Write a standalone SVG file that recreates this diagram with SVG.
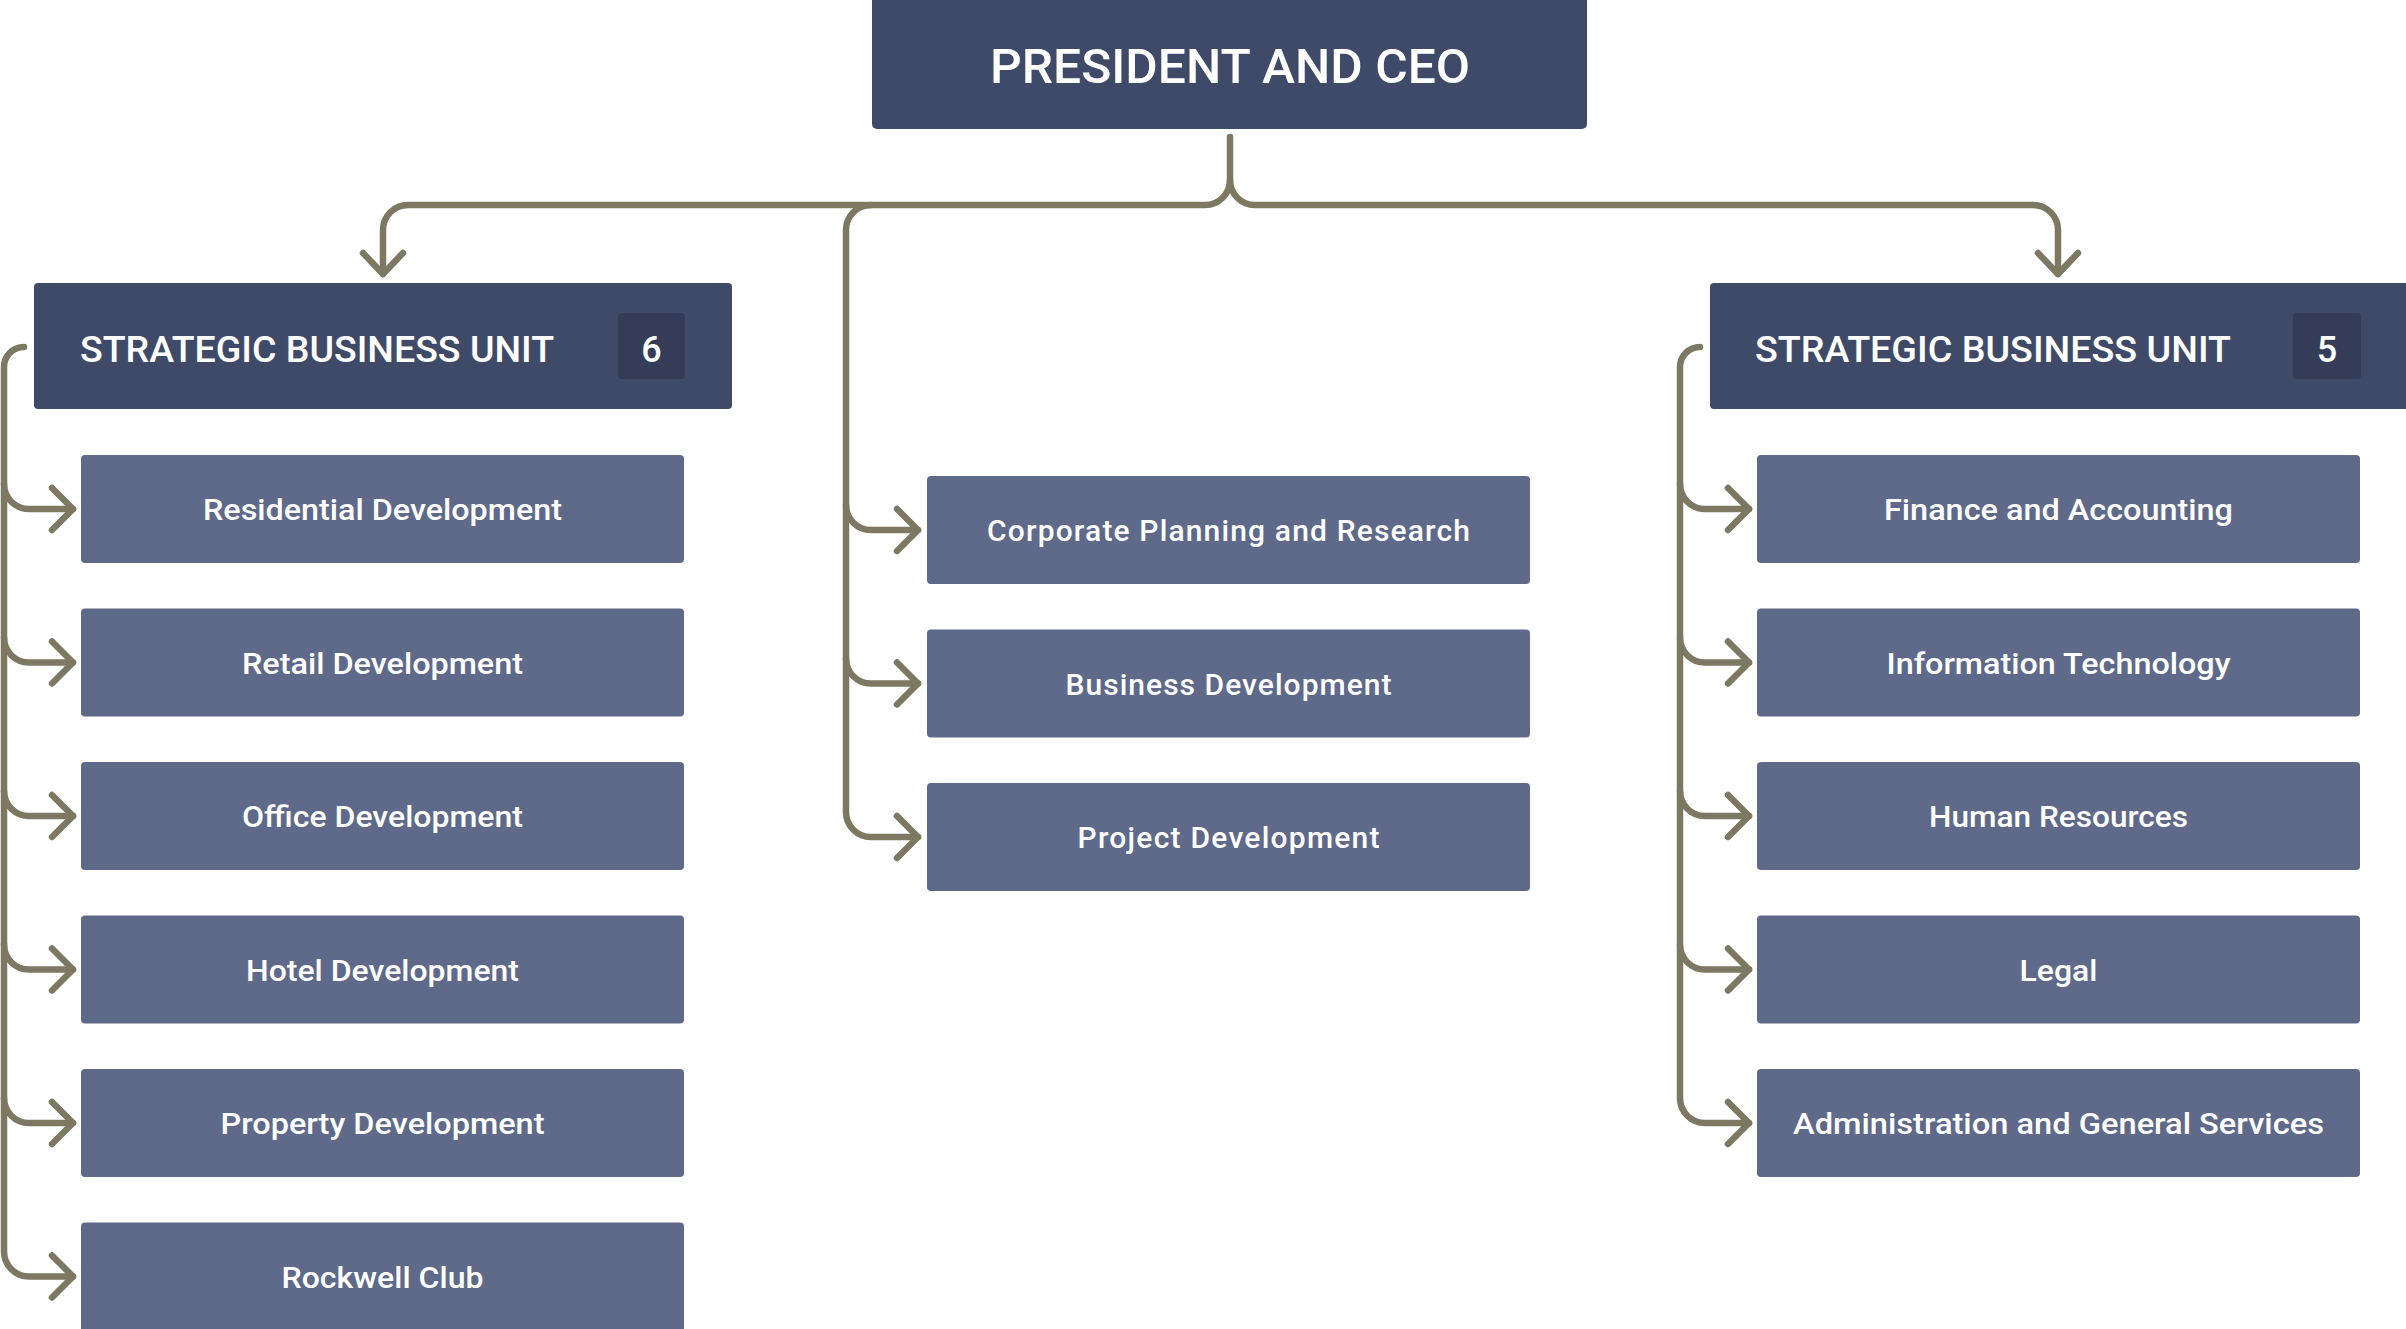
<svg xmlns="http://www.w3.org/2000/svg" width="2406" height="1329" viewBox="0 0 2406 1329">
<style>
  .head { fill: #3f4a68; }
  .sub { fill: #5f6a8a; }
  .badge { fill: #343c58; }
  .conn { fill: none; stroke: #7c7862; stroke-width: 6.5; stroke-linecap: round; stroke-linejoin: round; }
  .t { font-family: Roboto, "Liberation Sans", sans-serif; fill: #ffffff; }
  .th { font-size: 48px; font-weight: 500; text-anchor: middle; }
  .ts { font-size: 36px; font-weight: 500; }
  .tn { font-size: 36px; font-weight: 500; text-anchor: middle; }
  .tb { font-size: 30px; font-weight: 500; text-anchor: middle; }
</style>
<rect width="2406" height="1329" fill="#ffffff"/>

<g id="connectors">
  <path class="conn" d="M1230,137 V180 A25,25 0 0 1 1205,205 H408 A25,25 0 0 0 383,230 V274"/>
  <path class="conn" d="M1230,180 A25,25 0 0 0 1255,205 H2033 A25,25 0 0 1 2058,230 V274"/>
  <path class="conn" d="M363,253 L383,274 L403,253"/>
  <path class="conn" d="M2038,253 L2058,274 L2078,253"/>

  <path class="conn" d="M871,205 A25,25 0 0 0 846,230 V812 A25,25 0 0 0 871,837 H918"/>
  <path class="conn" d="M846,505 A25,25 0 0 0 871,530 H918"/>
  <path class="conn" d="M846,658.5 A25,25 0 0 0 871,683.5 H918"/>
  <path class="conn" d="M897,509 L918,530 L897,551"/>
  <path class="conn" d="M897,662.5 L918,683.5 L897,704.5"/>
  <path class="conn" d="M897,816 L918,837 L897,858"/>

  <path class="conn" d="M24,347 A20,20 0 0 0 4,367 V1251.5 A25,25 0 0 0 29,1276.5 H73"/>
  <path class="conn" d="M4,484 A25,25 0 0 0 29,509 H73"/>
  <path class="conn" d="M4,637.5 A25,25 0 0 0 29,662.5 H73"/>
  <path class="conn" d="M4,791 A25,25 0 0 0 29,816 H73"/>
  <path class="conn" d="M4,944.5 A25,25 0 0 0 29,969.5 H73"/>
  <path class="conn" d="M4,1098 A25,25 0 0 0 29,1123 H73"/>
  <path class="conn" d="M52,488 L73,509 L52,530"/>
  <path class="conn" d="M52,641.5 L73,662.5 L52,683.5"/>
  <path class="conn" d="M52,795 L73,816 L52,837"/>
  <path class="conn" d="M52,948.5 L73,969.5 L52,990.5"/>
  <path class="conn" d="M52,1102 L73,1123 L52,1144"/>
  <path class="conn" d="M52,1255.5 L73,1276.5 L52,1297.5"/>

  <path class="conn" d="M1700,347 A20,20 0 0 0 1680,367 V1098 A25,25 0 0 0 1705,1123 H1749"/>
  <path class="conn" d="M1680,484 A25,25 0 0 0 1705,509 H1749"/>
  <path class="conn" d="M1680,637.5 A25,25 0 0 0 1705,662.5 H1749"/>
  <path class="conn" d="M1680,791 A25,25 0 0 0 1705,816 H1749"/>
  <path class="conn" d="M1680,944.5 A25,25 0 0 0 1705,969.5 H1749"/>
  <path class="conn" d="M1728,488 L1749,509 L1728,530"/>
  <path class="conn" d="M1728,641.5 L1749,662.5 L1728,683.5"/>
  <path class="conn" d="M1728,795 L1749,816 L1728,837"/>
  <path class="conn" d="M1728,948.5 L1749,969.5 L1728,990.5"/>
  <path class="conn" d="M1728,1102 L1749,1123 L1728,1144"/>
</g>

<g id="ceo">
  <rect class="head" x="872" y="-6" width="715" height="135" rx="5"/>
  <text class="t th" x="1230" y="83" textLength="480" lengthAdjust="spacingAndGlyphs">PRESIDENT AND CEO</text>
</g>

<g id="sbu-left">
  <rect class="head" x="34" y="283" width="698" height="126" rx="4"/>
  <text class="t ts" x="80" y="362" textLength="474" lengthAdjust="spacingAndGlyphs">STRATEGIC BUSINESS UNIT</text>
  <rect class="badge" x="618" y="313" width="67" height="66" rx="4"/>
  <text class="t tn" x="651.5" y="362">6</text>
</g>

<g id="sbu-right">
  <rect class="head" x="1710" y="283" width="700" height="126" rx="4"/>
  <text class="t ts" x="1755" y="362" textLength="476" lengthAdjust="spacingAndGlyphs">STRATEGIC BUSINESS UNIT</text>
  <rect class="badge" x="2293" y="313" width="68" height="66" rx="4"/>
  <text class="t tn" x="2327" y="362">5</text>
</g>

<g id="residential"><rect class="sub" x="81" y="455" width="603" height="108" rx="4"/><text class="t tb" x="382.5" y="520" textLength="359" lengthAdjust="spacingAndGlyphs">Residential Development</text></g>
<g id="retail"><rect class="sub" x="81" y="608.5" width="603" height="108" rx="4"/><text class="t tb" x="382.5" y="673.5" textLength="281" lengthAdjust="spacingAndGlyphs">Retail Development</text></g>
<g id="office"><rect class="sub" x="81" y="762" width="603" height="108" rx="4"/><text class="t tb" x="382.5" y="827" textLength="281" lengthAdjust="spacingAndGlyphs">Office Development</text></g>
<g id="hotel"><rect class="sub" x="81" y="915.5" width="603" height="108" rx="4"/><text class="t tb" x="382.5" y="980.5" textLength="273" lengthAdjust="spacingAndGlyphs">Hotel Development</text></g>
<g id="property"><rect class="sub" x="81" y="1069" width="603" height="108" rx="4"/><text class="t tb" x="382.5" y="1134" textLength="324" lengthAdjust="spacingAndGlyphs">Property Development</text></g>
<g id="rockwell"><rect class="sub" x="81" y="1222.5" width="603" height="115" rx="4"/><text class="t tb" x="382.5" y="1287.5" textLength="202" lengthAdjust="spacingAndGlyphs">Rockwell Club</text></g>

<g id="corporate"><rect class="sub" x="927" y="476" width="603" height="108" rx="4"/><text class="t tb" x="1228.5" y="541" textLength="483" lengthAdjust="spacing">Corporate Planning and Research</text></g>
<g id="business"><rect class="sub" x="927" y="629.5" width="603" height="108" rx="4"/><text class="t tb" x="1228.5" y="694.5" textLength="326" lengthAdjust="spacing">Business Development</text></g>
<g id="project"><rect class="sub" x="927" y="783" width="603" height="108" rx="4"/><text class="t tb" x="1228.5" y="848" textLength="302" lengthAdjust="spacing">Project Development</text></g>

<g id="finance"><rect class="sub" x="1757" y="455" width="603" height="108" rx="4"/><text class="t tb" x="2058.5" y="520" textLength="349" lengthAdjust="spacingAndGlyphs">Finance and Accounting</text></g>
<g id="it"><rect class="sub" x="1757" y="608.5" width="603" height="108" rx="4"/><text class="t tb" x="2058.5" y="673.5" textLength="344" lengthAdjust="spacingAndGlyphs">Information Technology</text></g>
<g id="hr"><rect class="sub" x="1757" y="762" width="603" height="108" rx="4"/><text class="t tb" x="2058.5" y="827" textLength="259" lengthAdjust="spacingAndGlyphs">Human Resources</text></g>
<g id="legal"><rect class="sub" x="1757" y="915.5" width="603" height="108" rx="4"/><text class="t tb" x="2058.5" y="980.5" textLength="78" lengthAdjust="spacingAndGlyphs">Legal</text></g>
<g id="admin"><rect class="sub" x="1757" y="1069" width="603" height="108" rx="4"/><text class="t tb" x="2058.5" y="1134" textLength="531" lengthAdjust="spacingAndGlyphs">Administration and General Services</text></g>
</svg>
